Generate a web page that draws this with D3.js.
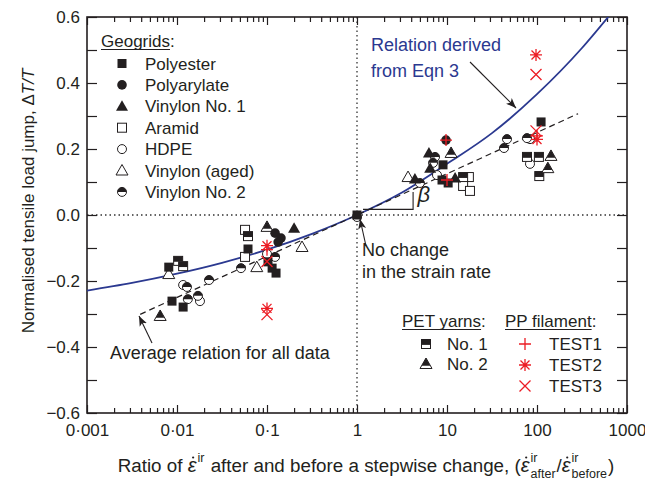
<!DOCTYPE html>
<html><head><meta charset="utf-8">
<script src="https://cdn.jsdelivr.net/npm/d3@7"></script>
<style>
body{margin:0;background:#fff;}
text{font-family:"Liberation Sans",Arial,sans-serif;fill:#231f20;white-space:pre;}
</style></head>
<body><svg id="c" width="645" height="486"></svg>
<script>
// ---------- data ----------
const xTickValues = [0.001, 0.01, 0.1, 1, 10, 100, 1000];
const xTickLabels = ["0·001", "0·01", "0·1", "1", "10", "100", "1000"];
const yTickValues = [0.6, 0.4, 0.2, 0.0, -0.2, -0.4, -0.6];
const yTickLabels = ["0.6", "0.4", "0.2", "0.0", "−0.2", "−0.4", "−0.6"];

const polyester   = [[0.0081,-0.158],[0.0088,-0.261],[0.0117,-0.279],[0.0615,-0.103],[0.1026,-0.142],[0.114,-0.161],[0.126,-0.176],[1,0],[9.03,0.152],[8.8,0.106],[10.3,0.097],[111,0.282]];
const polyarylate = [[0.123,-0.055],[0.143,-0.07],[0.133,-0.082],[9.75,0.227]];
const vinylon1    = [[0.2,-0.04],[4.4,0.109],[6.3,0.188],[6.5,0.142],[12.3,0.112]];
const aramid      = [[0.057,-0.045],[0.057,-0.127],[17.5,0.115],[15.1,0.088],[18,0.073]];
const hdpe        = [[0.0117,-0.212],[0.018,-0.261],[0.1,-0.118],[1,-0.006],[7.74,0.121],[83.6,0.23],[83.6,0.155]];
const vinylonAged = [[0.0081,-0.179],[0.245,-0.097],[0.077,-0.158],[3.69,0.115]];
const vinylon2    = [[0.0129,-0.218],[0.0132,-0.255],[0.0171,-0.245],[0.0227,-0.197],[0.0514,-0.161],[0.123,-0.127],[5.0,0.097],[7.36,0.176],[7.0,0.158],[46.4,0.23],[43,0.203],[77.4,0.233]];
const petNo1      = [[0.0103,-0.139],[0.0117,-0.155],[0.0615,-0.064],[15.1,0.115],[77.4,0.176],[105,0.176],[106,0.118]];
const petNo2      = [[0.0065,-0.306],[0.1,-0.036],[11.1,0.188],[143,0.179],[132,0.142]];
const test1       = [[0.1,-0.105],[9.75,0.227],[10,0.106],[100,0.24]];
const test2       = [[0.1,-0.093],[0.1,-0.283],[97.5,0.485],[100,0.229]];
const test3       = [[0.1,-0.141],[0.1,-0.302],[97.5,0.426],[97.5,0.255]];

// Relation derived from Eqn 3
const eqnX = [0.001,0.00316,0.01,0.0316,0.1,0.316,1,3.16,10,31.6,100,316,631];
const eqnY = [-0.229,-0.206,-0.178,-0.145,-0.105,-0.057,0,0.068,0.155,0.248,0.366,0.506,0.603];
// Average relation for all data (dashed)
const avgX = [0.0039, 286];
const avgY = [-0.301, 0.307];

// ---------- layout ----------
const svg = d3.select("#c");
const L = 87, R = 627, T = 17, B = 413;
const x = d3.scaleLog().domain([0.001,1000]).range([L,R]);
const y = d3.scaleLinear().domain([-0.6,0.6]).range([B,T]);
const ink = "#231f20", blue = "#2b3990", red = "#ec1c24";

svg.append("clipPath").attr("id","clip").append("rect")
  .attr("x",L).attr("y",T).attr("width",R-L).attr("height",B-T);

// dotted reference lines
svg.append("line").attr("x1",L).attr("x2",R).attr("y1",y(0)).attr("y2",y(0))
  .attr("stroke","#333").attr("stroke-width",1.3).attr("stroke-dasharray","1.5,3");
svg.append("line").attr("x1",x(1)).attr("x2",x(1)).attr("y1",T).attr("y2",B)
  .attr("stroke","#333").attr("stroke-width",1.3).attr("stroke-dasharray","1.5,3");

// axes
const minorX = [];
for (let e=-3;e<3;e++) for (let k=2;k<10;k++) minorX.push(k*Math.pow(10,e));
const minorY = d3.range(-5,6,2).map(v=>v/10);

const ax = svg.append("g").attr("class","axes");
ax.append("g").attr("transform",`translate(0,${B})`)
  .call(d3.axisBottom(x).tickValues(xTickValues).tickSize(-8).tickPadding(11)
    .tickFormat((d,i)=>xTickLabels[i]));
ax.append("g").attr("transform",`translate(0,${B})`)
  .call(d3.axisBottom(x).tickValues(minorX).tickSize(-5).tickFormat(""));
ax.append("g").attr("transform",`translate(0,${T})`)
  .call(d3.axisTop(x).tickValues(xTickValues).tickSize(-8).tickFormat(""));
ax.append("g").attr("transform",`translate(0,${T})`)
  .call(d3.axisTop(x).tickValues(minorX).tickSize(-5).tickFormat(""));
ax.append("g").attr("transform",`translate(${L},0)`)
  .call(d3.axisLeft(y).tickValues(yTickValues).tickSize(-10).tickPadding(7)
    .tickFormat((d,i)=>yTickLabels[i]));
ax.append("g").attr("transform",`translate(${L},0)`)
  .call(d3.axisLeft(y).tickValues(minorY).tickSize(-10).tickFormat(""));
ax.append("g").attr("transform",`translate(${R},0)`)
  .call(d3.axisRight(y).tickValues(yTickValues.concat(minorY)).tickSize(-10).tickFormat(""));
ax.selectAll(".domain").remove();
ax.selectAll(".tick line").attr("stroke",ink).attr("stroke-width",1.2);
ax.selectAll(".tick text").attr("font-size",17).attr("fill",ink)
  .attr("font-family","Liberation Sans, Arial, sans-serif");
svg.append("rect").attr("x",L).attr("y",T).attr("width",R-L).attr("height",B-T)
  .attr("fill","none").attr("stroke",ink).attr("stroke-width",1.6);

// curves
const plot = svg.append("g").attr("clip-path","url(#clip)");
plot.append("path").datum(eqnX.map((v,i)=>[v,eqnY[i]]))
  .attr("d",d3.line().x(d=>x(d[0])).y(d=>y(d[1])).curve(d3.curveMonotoneX))
  .attr("fill","none").attr("stroke",blue).attr("stroke-width",1.8);
plot.append("path").datum(avgX.map((v,i)=>[v,avgY[i]]))
  .attr("d",d3.line().x(d=>x(d[0])).y(d=>y(d[1])))
  .attr("fill","none").attr("stroke",ink).attr("stroke-width",1.2).attr("stroke-dasharray","6,4");

// beta annotation
svg.append("path").attr("d",`M${x(1)+6},${y(0.017)}H${x(4.2)}V${y(0.07)}`)
  .attr("fill","none").attr("stroke",ink).attr("stroke-width",1.1);
svg.append("text").attr("x",x(4.7)).attr("y",y(0.04)).attr("font-size",22)
  .attr("font-style","italic").attr("font-family","Liberation Serif, serif").text("β");

// markers
const g = svg.append("g");
function sym(data, fn){ data.forEach(d=>fn(g, x(d[0]), y(d[1]))); }
const S = 4.5;
const triPts = (cx,cy)=>`${cx},${cy-6} ${cx-6},${cy+4.5} ${cx+6},${cy+4.5}`;
function fSquare(p,cx,cy){p.append("rect").attr("x",cx-S).attr("y",cy-S).attr("width",2*S).attr("height",2*S).attr("fill",ink);}
function oSquare(p,cx,cy){p.append("rect").attr("x",cx-S).attr("y",cy-S).attr("width",2*S).attr("height",2*S).attr("fill","#fff").attr("stroke",ink).attr("stroke-width",1);}
function hSquare(p,cx,cy){oSquare(p,cx,cy);p.append("rect").attr("x",cx-S).attr("y",cy-S).attr("width",2*S).attr("height",S*1.2).attr("fill",ink);}
function fCircle(p,cx,cy){p.append("circle").attr("cx",cx).attr("cy",cy).attr("r",S+0.3).attr("fill",ink);}
function oCircle(p,cx,cy){p.append("circle").attr("cx",cx).attr("cy",cy).attr("r",S).attr("fill","#fff").attr("stroke",ink).attr("stroke-width",1);}
function hCircle(p,cx,cy){oCircle(p,cx,cy);p.append("path").attr("d",`M${cx-S},${cy}A${S},${S} 0 0 1 ${cx+S},${cy}Z`).attr("fill",ink);}
function fTri(p,cx,cy){p.append("polygon").attr("points",triPts(cx,cy)).attr("fill",ink);}
function oTri(p,cx,cy){p.append("polygon").attr("points",triPts(cx,cy)).attr("fill","#fff").attr("stroke",ink).attr("stroke-width",1);}
function hTri(p,cx,cy){oTri(p,cx,cy);p.append("polygon").attr("points",`${cx},${cy-6} ${cx-4.4},${cy+1.8} ${cx+4.4},${cy+1.8}`).attr("fill",ink);}
function rPlus(p,cx,cy){p.append("path").attr("d",`M${cx-6},${cy}H${cx+6}M${cx},${cy-6}V${cy+6}`).attr("stroke",red).attr("stroke-width",1.3);}
function rCross(p,cx,cy){p.append("path").attr("d",`M${cx-5.5},${cy-5.5}L${cx+5.5},${cy+5.5}M${cx+5.5},${cy-5.5}L${cx-5.5},${cy+5.5}`).attr("stroke",red).attr("stroke-width",1.3);}
function rStar(p,cx,cy){p.append("path").attr("d",`M${cx-6},${cy}H${cx+6}M${cx},${cy-6}V${cy+6}M${cx-4.5},${cy-4.5}L${cx+4.5},${cy+4.5}M${cx+4.5},${cy-4.5}L${cx-4.5},${cy+4.5}`).attr("stroke",red).attr("stroke-width",1.3);}

sym(aramid,oSquare); sym(hdpe,oCircle); sym(vinylonAged,oTri);
sym(vinylon2,hCircle); sym(petNo1,hSquare); sym(petNo2,hTri);
sym(polyester,fSquare); sym(polyarylate,fCircle); sym(vinylon1,fTri);
sym(test1,rPlus); sym(test2,rStar); sym(test3,rCross);

// arrows
svg.append("defs").append("marker").attr("id","ah").attr("viewBox","0 0 10 10")
  .attr("refX",10).attr("refY",5).attr("markerWidth",10).attr("markerHeight",10)
  .attr("markerUnits","userSpaceOnUse").attr("orient","auto")
  .append("path").attr("d","M0,1L10,5L0,9L2.5,5Z").attr("fill",ink);
function arrow(x1,y1,x2,y2){svg.append("line").attr("x1",x1).attr("y1",y1).attr("x2",x2).attr("y2",y2)
  .attr("stroke",ink).attr("stroke-width",1.1).attr("marker-end","url(#ah)");}
arrow(470,62,516,108);
arrow(366,246,360,219);
arrow(152,343,139,316);

// annotations
const ann = (t,xx,yy,col,fs)=>svg.append("text").attr("x",xx).attr("y",yy).attr("font-size",fs||18).attr("fill",col||ink).style("fill",col||ink).text(t);
ann("Relation derived",371,51,blue);
ann("from Eqn 3",371,77,blue);
ann("No change",362,256);
ann("in the strain rate",362,278);
ann("Average relation for all data",110,359);

// legend: Geogrids
const lg = [["Polyester",fSquare],["Polyarylate",fCircle],["Vinylon No. 1",fTri],["Aramid",oSquare],["HDPE",oCircle],["Vinylon (aged)",oTri],["Vinylon No. 2",hCircle]];
function underlined(t,xx,yy,fs){const tx=ann(t,xx,yy,ink,fs);const w=tx.node().getComputedTextLength();
  svg.append("line").attr("x1",xx).attr("x2",xx+w).attr("y1",yy+2.5).attr("y2",yy+2.5).attr("stroke",ink).attr("stroke-width",1.2);return w;}
let w = underlined("Geogrids",101,47,17);
ann(":",101+w,47,ink,17);
lg.forEach((d,i)=>{const cy=63.5+i*21.4; d[1](svg,122,cy); ann(d[0],145,cy+6,ink,17);});

// legend: PET yarns / PP filament
w = underlined("PET yarns",402,327,17); ann(":",402+w,327,ink,17);
w = underlined("PP filament",505,327,17); ann(":",505+w,327,ink,17);
hSquare(svg,426,344); ann("No. 1",447,350,ink,17);
hTri(svg,426,364); ann("No. 2",447,370,ink,17);
rPlus(svg,525,344); ann("TEST1",549,350,ink,17);
rStar(svg,525,365); ann("TEST2",549,371,ink,17);
rCross(svg,525,386); ann("TEST3",549,392,ink,17);

// y axis title
const yt = svg.append("text").attr("transform","translate(34,201) rotate(-90)")
  .attr("text-anchor","middle").attr("font-size",17);
yt.append("tspan").text("Normalised tensile load jump, Δ");
yt.append("tspan").attr("font-style","italic").text("T/T");

// x axis title built piece by piece
const xg = svg.append("g");
let cx = 0;
function piece(t, fs, dy, serif){
  const e = xg.append("text").attr("x",cx).attr("y",dy).attr("font-size",fs)
    .attr("xml:space","preserve").style("white-space","pre").text(t);
  if (serif) e.attr("font-family","Liberation Serif, serif").attr("font-style","italic");
  return e.node().getComputedTextLength();
}
function epsDot(){
  const we = piece("ε",20,0,true);
  xg.append("circle").attr("cx",cx+we*0.62).attr("cy",-14.5).attr("r",1.1).attr("fill",ink);
  cx += we + 1;
}
function supSub(sub){
  const a = piece("ir",12.5,-10,false);
  const b = sub ? piece(sub,12.5,6,false) : 0;
  cx += Math.max(a,b) + 1;
}
const mf = 18.8;
cx += piece("Ratio of ",mf,0);
epsDot(); supSub(null);
cx += piece(" after and before a stepwise change, (",mf,0);
epsDot(); supSub("after");
cx += piece("/",mf,0);
epsDot(); supSub("before");
cx += piece(")",mf,0);
xg.attr("transform",`translate(${366 - cx/2},472)`);
</script></body></html>
